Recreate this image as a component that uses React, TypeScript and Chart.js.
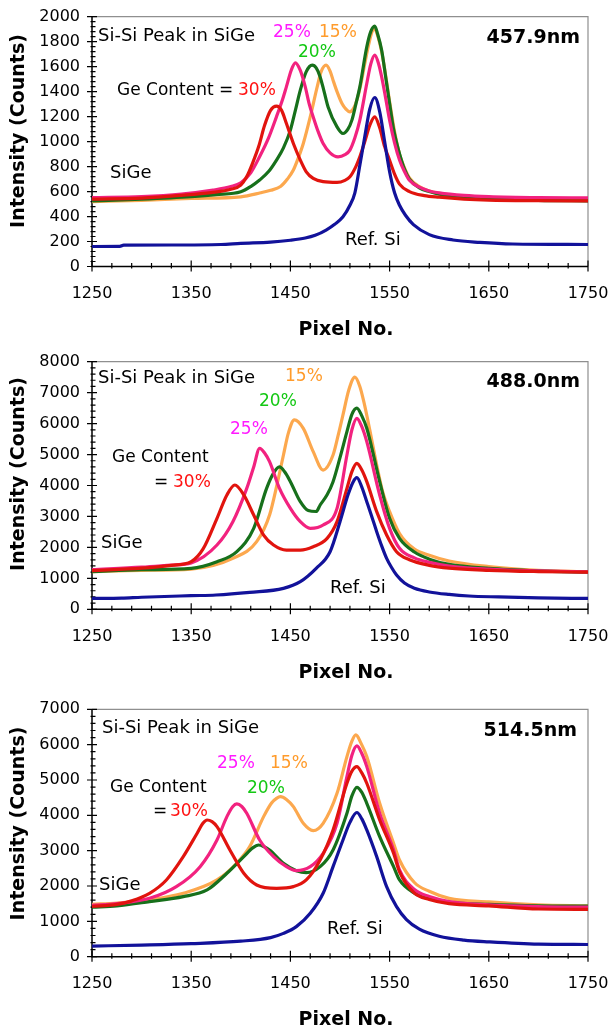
import React, { useEffect, useRef } from "react";
import { Chart, registerables } from "chart.js";

Chart.register(...registerables);

const FONT = '"DejaVu Sans", sans-serif';

// ---------- shared axis values ----------
const pixelTicks = [1250, 1350, 1450, 1550, 1650, 1750];
const pixelMinorStep = 20;

// ---------- Panel 1 : 457.9nm ----------
const c1RefX = [1250,1278,1282,1330,1380,1400,1430,1450,1465,1475,1486,1495,1503,1510,1515,1520,1525,1530,1535,1540,1545,1550,1555,1560,1566,1574,1590,1614,1641,1674,1750];
const c1RefY = [160,161,171,172,176,185,195,210,228,250,292,340,398,490,590,810,1040,1260,1353,1240,1000,760,590,490,410,335,255,212,193,180,176];
const c1Ge30X = [1250,1300,1340,1370,1390,1400,1406,1412,1418,1424,1430,1436,1441,1446,1453,1460,1466,1473,1483,1497,1505,1510,1516,1520,1525,1530,1535,1540,1545,1550,1555,1560,1570,1585,1600,1625,1650,1700,1750];
const c1Ge30Y = [540,548,570,592,618,652,720,830,960,1130,1250,1284,1252,1145,985,852,758,705,679,673,690,718,800,878,1000,1130,1198,1110,960,850,740,660,600,568,555,540,532,527,525];
const c1Ge25X = [1250,1300,1340,1372,1390,1400,1410,1419,1428,1436,1442,1446,1451,1455,1460,1465,1469,1473,1478,1483,1490,1498,1505,1510,1515,1520,1527,1531,1535,1539,1542,1546,1550,1555,1560,1565,1570,1580,1590,1600,1625,1650,1700,1750];
const c1Ge25Y = [552,560,580,612,640,670,750,880,1030,1200,1335,1440,1575,1631,1570,1438,1300,1198,1080,985,910,878,895,932,1030,1172,1465,1620,1692,1620,1518,1350,1172,990,852,760,690,635,605,590,570,560,552,550];
const c1Ge20X = [1250,1300,1350,1375,1400,1410,1419,1428,1436,1443,1450,1455,1460,1466,1472,1476,1480,1484,1488,1497,1503,1508,1512,1516,1520,1527,1531,1535,1538,1542,1546,1550,1554,1559,1565,1570,1580,1590,1600,1625,1650,1700,1750];
const c1Ge20Y = [525,540,560,575,598,640,692,760,852,950,1092,1250,1412,1560,1612,1590,1518,1400,1278,1118,1065,1100,1172,1300,1438,1758,1880,1924,1860,1732,1520,1305,1100,932,780,700,630,600,580,555,545,530,525];
const c1Ge15X = [1250,1300,1350,1400,1420,1430,1440,1447,1453,1458,1463,1470,1477,1481,1486,1490,1493,1497,1502,1506,1510,1514,1517,1521,1525,1529,1533,1535,1539,1542,1546,1550,1555,1560,1565,1570,1580,1590,1600,1625,1650,1700,1750];
const c1Ge15Y = [520,530,545,558,590,610,640,700,772,870,985,1198,1438,1560,1612,1565,1492,1400,1305,1260,1238,1270,1332,1460,1625,1780,1892,1900,1820,1720,1530,1320,1080,900,790,710,640,605,585,560,548,535,530];

// ---------- Panel 2 : 488.0nm ----------
const c2RefX = [1250,1280,1300,1350,1375,1409,1443,1460,1476,1490,1500,1508,1513,1517,1522,1527,1532,1537,1542,1547,1552,1557,1565,1575,1590,1610,1630,1660,1700,1750];
const c2RefY = [350,360,390,440,462,548,677,892,1322,1860,2830,3690,4100,4252,3950,3477,3000,2508,2050,1646,1350,1108,850,680,560,480,430,400,370,350];
const c2Ge30X = [1250,1300,1330,1350,1362,1376,1386,1394,1403,1413,1423,1433,1446,1460,1473,1487,1497,1507,1512,1517,1522,1527,1537,1547,1557,1570,1590,1610,1650,1700,1750];
const c2Ge30Y = [1250,1330,1420,1540,1950,2940,3694,4016,3694,3047,2400,2077,1915,1915,2023,2292,2830,3907,4450,4716,4500,4124,3155,2400,1861,1600,1420,1330,1260,1220,1200];
const c2Ge25X = [1250,1300,1330,1350,1376,1392,1406,1413,1419,1424,1429,1439,1450,1460,1470,1483,1497,1507,1512,1517,1522,1527,1540,1550,1560,1575,1590,1610,1650,1700,1750];
const c2Ge25Y = [1280,1360,1430,1500,2077,2830,3907,4600,5200,5050,4770,3907,3261,2830,2615,2723,3261,4985,5800,6170,5900,5416,3694,2615,1970,1660,1520,1400,1300,1240,1210];
const c2Ge20X = [1250,1300,1350,1376,1396,1413,1426,1433,1439,1444,1450,1460,1468,1476,1480,1487,1493,1500,1507,1512,1517,1522,1527,1540,1550,1560,1575,1590,1610,1650,1700,1750];
const c2Ge20Y = [1220,1280,1323,1538,1861,2615,3907,4400,4600,4450,4124,3477,3190,3160,3370,3700,4124,4900,5740,6300,6500,6250,5847,4124,2940,2292,1850,1620,1450,1320,1240,1200];
const c2Ge15X = [1250,1300,1350,1392,1416,1429,1437,1443,1448,1454,1463,1473,1483,1493,1498,1503,1509,1515,1520,1524,1530,1537,1543,1550,1560,1575,1590,1610,1650,1700,1750];
const c2Ge15Y = [1220,1260,1300,1646,2185,3047,4100,4985,5700,6120,5847,5093,4500,4985,5600,6280,7100,7500,7200,6708,5800,4662,3800,3155,2450,1950,1750,1560,1380,1260,1210];

// ---------- Panel 3 : 514.5nm ----------
const c3RefX = [1250,1300,1350,1400,1430,1443,1456,1470,1483,1493,1503,1510,1517,1522,1527,1537,1547,1557,1567,1580,1600,1625,1650,1700,1750];
const c3RefY = [300,330,370,440,540,660,850,1227,1794,2548,3303,3800,4080,3900,3586,2831,1982,1416,1050,780,580,470,420,355,345];
const c3Ge30X = [1250,1275,1290,1308,1325,1342,1356,1362,1366,1371,1376,1389,1403,1416,1436,1453,1466,1480,1493,1507,1512,1517,1522,1527,1540,1554,1560,1575,1590,1610,1650,1700,1750];
const c3Ge30Y = [1420,1480,1580,1793,2171,2831,3492,3780,3868,3820,3680,3020,2360,2030,1935,1982,2171,2737,3586,4907,5250,5378,5200,4907,3868,2925,2400,1800,1620,1500,1440,1350,1340];
const c3Ge25X = [1250,1275,1308,1335,1359,1376,1386,1392,1396,1401,1406,1419,1433,1446,1456,1470,1483,1497,1507,1512,1517,1522,1527,1540,1554,1560,1575,1590,1610,1650,1700,1750];
const c3Ge25Y = [1450,1500,1652,1982,2548,3303,3963,4250,4322,4250,4058,3303,2831,2548,2435,2548,2925,3774,5095,5700,5963,5750,5378,4058,3020,2454,1900,1700,1560,1470,1420,1400];
const c3Ge20X = [1250,1275,1308,1342,1366,1386,1403,1412,1418,1423,1429,1443,1456,1466,1480,1493,1507,1512,1517,1522,1527,1540,1554,1560,1575,1590,1610,1650,1700,1750];
const c3Ge20Y = [1400,1440,1560,1699,1888,2360,2831,3080,3161,3120,3020,2642,2435,2378,2548,3020,4058,4550,4793,4650,4341,3397,2548,2171,1800,1640,1540,1480,1440,1430];
const c3Ge15X = [1250,1275,1308,1342,1376,1396,1409,1423,1431,1436,1440,1446,1453,1463,1473,1483,1497,1507,1512,1516,1521,1527,1540,1554,1560,1575,1590,1610,1650,1700,1750];
const c3Ge15Y = [1480,1520,1610,1793,2171,2650,3114,3963,4350,4480,4529,4450,4246,3774,3567,3774,4623,5661,6100,6274,6050,5661,4341,3208,2737,2100,1850,1650,1550,1470,1440];

// ---------- styles ----------
const COL = { ref: "#12129a", ge30: "#e1140e", ge25: "#f2227f", ge20: "#17701b", ge15: "#fca84e" };
const TXT = { magenta: "#ff1aff", green: "#14c814", orange: "#ff9b2b", red: "#ff1212" };

type Txt = { t: string; x: number; y: number; c?: string; bold?: boolean; size?: number; align?: CanvasTextAlign };
type Series = { label: string; color: string; x: number[]; y: number[] };
type Panel = {
  top: number; height: number; areaTop: number; areaBottom: number;
  yMax: number; yStep: number; yMinor: number;
  series: Series[]; texts: Txt[]; yTitleY: number; xTitleY: number;
};

const mk = (ref: [number[], number[]], g30: [number[], number[]], g25: [number[], number[]], g20: [number[], number[]], g15: [number[], number[]]): Series[] => [
  { label: "Ref. Si", color: COL.ref, x: ref[0], y: ref[1] },
  { label: "30%", color: COL.ge30, x: g30[0], y: g30[1] },
  { label: "25%", color: COL.ge25, x: g25[0], y: g25[1] },
  { label: "20%", color: COL.ge20, x: g20[0], y: g20[1] },
  { label: "15%", color: COL.ge15, x: g15[0], y: g15[1] },
];

const panels: Panel[] = [
  {
    top: 0, height: 343, areaTop: 16.7, areaBottom: 266.5, yMax: 2000, yStep: 200, yMinor: 40,
    series: mk([c1RefX, c1RefY], [c1Ge30X, c1Ge30Y], [c1Ge25X, c1Ge25Y], [c1Ge20X, c1Ge20Y], [c1Ge15X, c1Ge15Y]),
    texts: [
      { t: "Si-Si Peak in SiGe", x: 98, y: 36 },
      { t: "25%", x: 273, y: 33, c: TXT.magenta, size: 17 },
      { t: "15%", x: 319, y: 33, c: TXT.orange, size: 17 },
      { t: "20%", x: 298, y: 53, c: TXT.green, size: 17 },
      { t: "Ge Content =", x: 117, y: 91, size: 17 },
      { t: "30%", x: 238, y: 91, c: TXT.red, size: 17 },
      { t: "SiGe", x: 110, y: 173 },
      { t: "Ref. Si", x: 345, y: 240 },
      { t: "457.9nm", x: 580, y: 38, bold: true, size: 19, align: "right" },
    ],
    yTitleY: 131, xTitleY: 330,
  },
  {
    top: 343, height: 343, areaTop: 18.7, areaBottom: 266.3, yMax: 8000, yStep: 1000, yMinor: 200,
    series: mk([c2RefX, c2RefY], [c2Ge30X, c2Ge30Y], [c2Ge25X, c2Ge25Y], [c2Ge20X, c2Ge20Y], [c2Ge15X, c2Ge15Y]),
    texts: [
      { t: "Si-Si Peak in SiGe", x: 98, y: 35 },
      { t: "15%", x: 285, y: 34, c: TXT.orange, size: 17 },
      { t: "20%", x: 259, y: 59, c: TXT.green, size: 17 },
      { t: "25%", x: 230, y: 87, c: TXT.magenta, size: 17 },
      { t: "Ge Content", x: 112, y: 115, size: 17 },
      { t: "=", x: 154, y: 140, size: 17 },
      { t: "30%", x: 173, y: 140, c: TXT.red, size: 17 },
      { t: "SiGe", x: 101, y: 200 },
      { t: "Ref. Si", x: 330, y: 245 },
      { t: "488.0nm", x: 580, y: 39, bold: true, size: 19, align: "right" },
    ],
    yTitleY: 131, xTitleY: 330,
  },
  {
    top: 686, height: 345, areaTop: 23.3, areaBottom: 270.7, yMax: 7000, yStep: 1000, yMinor: 200,
    series: mk([c3RefX, c3RefY], [c3Ge30X, c3Ge30Y], [c3Ge25X, c3Ge25Y], [c3Ge20X, c3Ge20Y], [c3Ge15X, c3Ge15Y]),
    texts: [
      { t: "Si-Si Peak in SiGe", x: 102, y: 42 },
      { t: "25%", x: 217, y: 78, c: TXT.magenta, size: 17 },
      { t: "15%", x: 270, y: 78, c: TXT.orange, size: 17 },
      { t: "20%", x: 247, y: 103, c: TXT.green, size: 17 },
      { t: "Ge Content", x: 110, y: 102, size: 17 },
      { t: "=", x: 153, y: 126, size: 17 },
      { t: "30%", x: 170, y: 126, c: TXT.red, size: 17 },
      { t: "SiGe", x: 99, y: 199 },
      { t: "Ref. Si", x: 327, y: 243 },
      { t: "514.5nm", x: 577, y: 45, bold: true, size: 19, align: "right" },
    ],
    yTitleY: 137.5, xTitleY: 334,
  },
];

function PanelChart({ p }: { p: Panel }) {
  const ref = useRef<HTMLCanvasElement>(null);
  useEffect(() => {
    const canvas = ref.current;
    if (!canvas) return;
    const decor = {
      id: "decor",
      beforeDatasetsDraw(chart: any) {
        const { ctx, chartArea: a } = chart;
        const xs = chart.scales.x;
        const ys = chart.scales.y;
        ctx.save();
        ctx.lineWidth = 1.2;
        ctx.strokeStyle = "#8f8f8f";
        ctx.beginPath();
        ctx.moveTo(a.left, a.top);
        ctx.lineTo(a.right, a.top);
        ctx.lineTo(a.right, a.bottom);
        ctx.stroke();
        ctx.strokeStyle = "#000";
        ctx.lineWidth = 1.5;
        ctx.beginPath();
        ctx.moveTo(a.left, a.top);
        ctx.lineTo(a.left, a.bottom);
        ctx.lineTo(a.right, a.bottom);
        ctx.stroke();
        ctx.lineWidth = 1.2;
        ctx.beginPath();
        const x0 = pixelTicks[0];
        const x1 = pixelTicks[pixelTicks.length - 1];
        for (let v = x0; v <= x1; v += pixelMinorStep) {
          const px = xs.getPixelForValue(v);
          const major = pixelTicks.includes(v);
          ctx.moveTo(px, a.bottom - (major ? 6 : 3.5));
          ctx.lineTo(px, a.bottom + (major ? 5 : 2));
        }
        for (let v = 0; v <= p.yMax; v += p.yMinor) {
          const py = ys.getPixelForValue(v);
          const major = v % p.yStep === 0;
          ctx.moveTo(a.left - (major ? 5 : 1.5), py);
          ctx.lineTo(a.left + (major ? 5 : 3.5), py);
        }
        ctx.stroke();
        ctx.restore();
      },
      afterDraw(chart: any) {
        const { ctx } = chart;
        ctx.save();
        ctx.textBaseline = "middle";
        for (const t of p.texts) {
          ctx.font = `${t.bold ? "bold " : ""}${t.size ?? 18}px ${FONT}`;
          ctx.fillStyle = t.c ?? "#000";
          ctx.textAlign = t.align ?? "left";
          ctx.fillText(t.t, t.x, t.y);
        }
        ctx.font = `bold 19px ${FONT}`;
        ctx.fillStyle = "#000";
        ctx.textAlign = "center";
        ctx.fillText("Pixel No.", 346, p.xTitleY);
        ctx.translate(19, p.yTitleY);
        ctx.rotate(-Math.PI / 2);
        ctx.fillText("Intensity (Counts)", 0, 0);
        ctx.restore();
      },
    };
    const chart = new Chart(canvas, {
      type: "line",
      data: {
        datasets: p.series.map((s) => ({
          label: s.label,
          data: s.x.map((x, i) => ({ x, y: s.y[i] })),
          borderColor: s.color,
          backgroundColor: s.color,
          borderWidth: 3.2,
          pointRadius: 0,
          cubicInterpolationMode: "monotone" as const,
          fill: false,
        })),
      },
      options: {
        responsive: false,
        animation: false,
        devicePixelRatio: 1,
        layout: { padding: { left: 0, right: 24, top: p.areaTop, bottom: 0 } },
        plugins: { legend: { display: false }, tooltip: { enabled: false } },
        scales: {
          x: {
            type: "linear",
            min: pixelTicks[0],
            max: pixelTicks[pixelTicks.length - 1],
            afterBuildTicks: (s: any) => {
              s.ticks = pixelTicks.map((v) => ({ value: v }));
            },
            afterFit: (s: any) => {
              s.height = p.height - p.areaBottom;
              s.paddingLeft = 0;
              s.paddingRight = 0;
            },
            grid: { display: false, drawTicks: false },
            border: { display: false },
            ticks: {
              padding: 18,
              color: "#000",
              maxRotation: 0,
              autoSkip: false,
              font: { family: FONT, size: 16 },
              callback: (v: any) => String(v),
            },
          },
          y: {
            type: "linear",
            min: 0,
            max: p.yMax,
            afterFit: (s: any) => {
              s.width = 92;
              s.paddingTop = 0;
              s.paddingBottom = 0;
            },
            grid: { display: false, drawTicks: false },
            border: { display: false },
            ticks: {
              stepSize: p.yStep,
              padding: 12,
              color: "#000",
              font: { family: FONT, size: 16 },
              callback: (v: any) => String(v),
            },
          },
        },
      },
      plugins: [decor],
    });
    return () => chart.destroy();
  }, [p]);
  return (
    <canvas
      ref={ref}
      width={612}
      height={p.height}
      style={{ position: "absolute", left: 0, top: p.top, width: 612, height: p.height, display: "block" }}
    />
  );
}

export default function App() {
  return (
    <div style={{ position: "absolute", left: 0, top: 0, width: 612, height: 1031, background: "#fff" }}>
      {panels.map((p, i) => (
        <PanelChart key={i} p={p} />
      ))}
    </div>
  );
}
